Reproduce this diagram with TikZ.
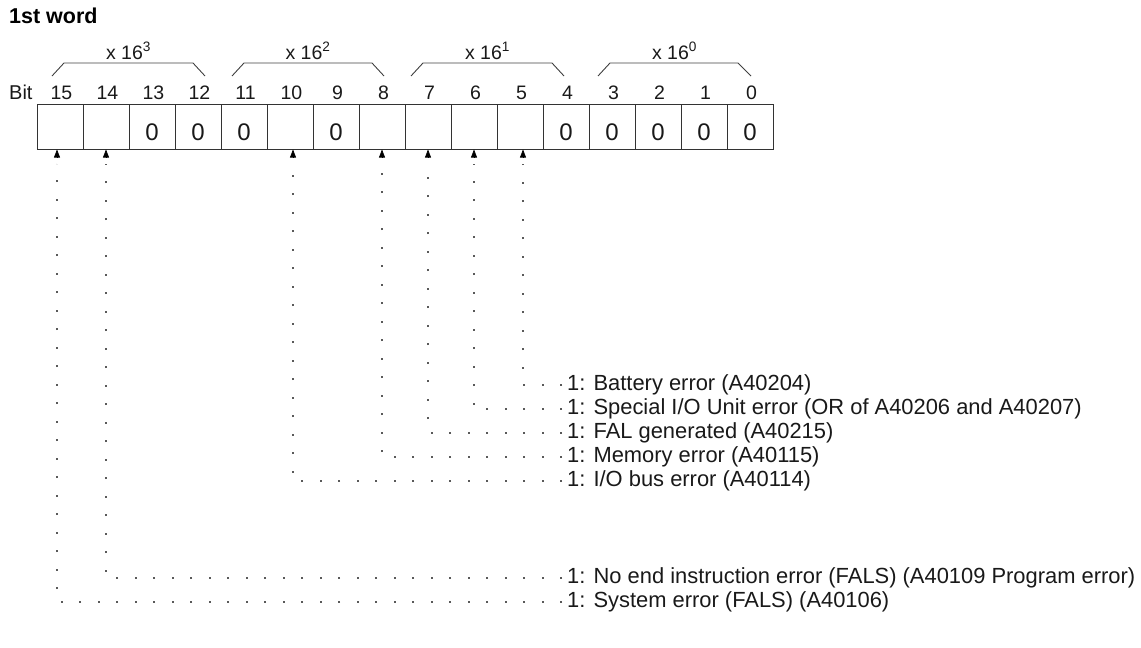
\documentclass[tikz,border=0pt]{standalone}
\usepackage{fontspec}
\setmainfont{Liberation Sans}
\usetikzlibrary{arrows.meta,calc}
\begin{document}
\begin{tikzpicture}[x=1pt,y=-1pt,
  cell/.style={draw=black!80,line width=1pt,minimum width=46pt,minimum height=45pt,inner sep=0pt,
    font=\fontsize{24}{28}\selectfont,text=black!90},
  bitnum/.style={anchor=base,inner sep=0pt,font=\fontsize{19.5}{23}\selectfont,text=black!90},
  grplab/.style={anchor=base,inner sep=0pt,font=\fontsize{19.5}{23}\selectfont,text=black!90},
  brace/.style={draw=black!75,line width=0.9pt},
  lab/.style={anchor=west,inner sep=0pt,font=\fontsize{21.9}{26}\selectfont,text=black!90},
  dotline/.style={draw=black!65,line width=1.2pt,dash pattern=on 2pt off 16.5pt},
  tipline/.style={draw=black,line width=0.6pt,-{Triangle[width=6pt,length=8pt]}}]
\useasboundingbox (0,0) rectangle (1141,648);
\node[anchor=base west,inner sep=0pt,font=\fontsize{21.5}{25}\selectfont\bfseries] (title) at (9,23) {1st word};
% braces
\draw[brace] (52,76) -- (64,63) -- (193,63) -- (205,76);
\draw[brace] (232,76) -- (244,63) -- (372,63) -- (384,76);
\draw[brace] (411,76) -- (423,63) -- (552,63) -- (564,76);
\draw[brace] (598,76) -- (610,63) -- (738,63) -- (751,76);
\node[grplab] (g3) at (128.5,59) {x 16\textsuperscript{3}};
\node[grplab] (g2) at (308,59) {x 16\textsuperscript{2}};
\node[grplab] (g1) at (487.5,59) {x 16\textsuperscript{1}};
\node[grplab] (g0) at (674.5,59) {x 16\textsuperscript{0}};
\node[anchor=base west,inner sep=0pt,font=\fontsize{20}{24}\selectfont,text=black!90] (bit) at (9,99) {Bit};
\foreach \b in {0,...,15}{
  \pgfmathsetmacro{\cx}{37+46*(15-\b)+23}
  \node[cell] (c\b) at (\cx,126.5) {};
  \node[bitnum] (n\b) at (\cx+1.5,99) {\b};
}
\foreach \b in {13,12,11,9,4,3,2,1,0}{
  \node[anchor=base,inner sep=0pt,font=\fontsize{24}{28}\selectfont,text=black!90] (z\b) at ($(c\b.center)+(0,13.5)$) {0};
}
% labels
\node[lab] (l5) at (567,385) {1: Battery error (A40204)};
\node[lab] (l6) at (567,409) {1: Special I/O Unit error (OR of A40206 and A40207)};
\node[lab] (l7) at (567,433) {1: FAL generated (A40215)};
\node[lab] (l8) at (567,457) {1: Memory error (A40115)};
\node[lab] (l10) at (567,481) {1: I/O bus error (A40114)};
\node[lab] (l14) at (567,578) {1: No end instruction error (FALS) (A40109 Program error)};
\node[lab] (l15) at (567,602) {1: System error (FALS) (A40106)};
% connectors
\foreach \b/\dx in {5/3,6/0,7/0,8/0,10/3,14/0,15/-3}{
  \draw[dotline] ([xshift=-5pt]l\b.west) -| ([xshift=\dx pt,yshift=-14pt]c\b.south);
  \draw[tipline] ([xshift=\dx pt,yshift=-8pt]c\b.south) -- ([xshift=\dx pt]c\b.south);
}
\end{tikzpicture}
\end{document}
